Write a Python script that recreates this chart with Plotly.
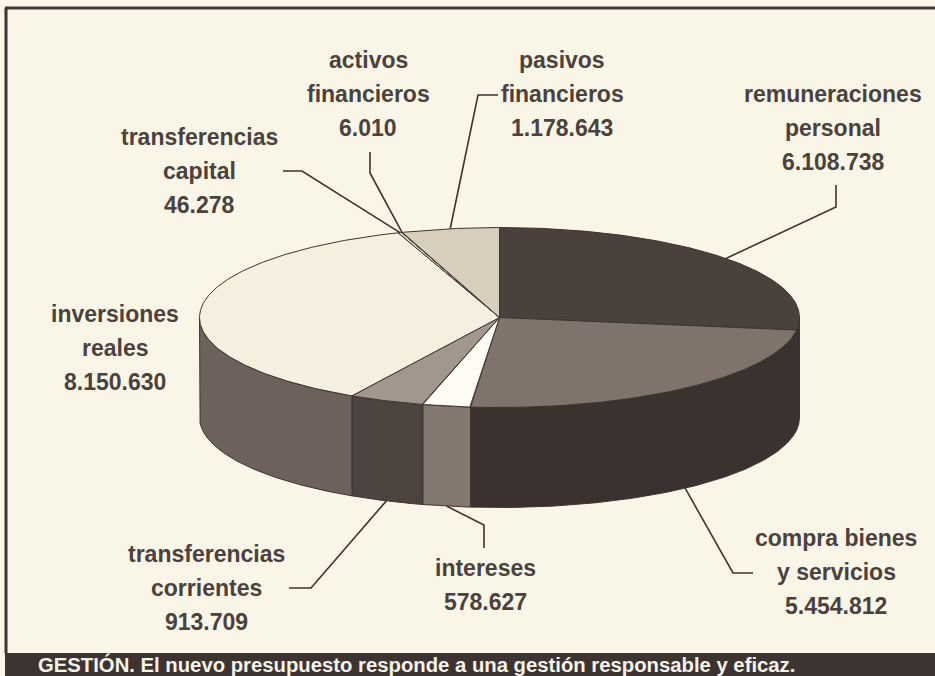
#!/usr/bin/env python
"""
Presupuesto: tarta en perspectiva con etiquetas y caja de pie.
Exports: out.html
"""

import numpy as np
import plotly.graph_objects as go

# ------------------------------------------------------------------
# Data (clockwise from 12 o'clock)
# ------------------------------------------------------------------
CATEGORIES = [
    "remuneraciones\npersonal",
    "compra bienes\ny servicios",
    "intereses",
    "transferencias\ncorrientes",
    "inversiones\nreales",
    "transferencias\ncapital",
    "activos\nfinancieros",
    "pasivos\nfinancieros",
]
VALUES = [6108738, 5454812, 578627, 913709, 8150630, 46278, 6010, 1178643]
VALUE_LABELS = ["6.108.738", "5.454.812", "578.627", "913.709",
                "8.150.630", "46.278", "6.010", "1.178.643"]
CAPTION = "GESTIÓN. El nuevo presupuesto responde a una gestión responsable y eficaz."

# ------------------------------------------------------------------
# Styling
# ------------------------------------------------------------------
TOP_COLORS = ["#4a403c", "#7f736b", "#fffdf3", "#a3978d",
              "#f4efde", "#e4dccb", "#f0ead9", "#d8cebc"]
SIDE_COLORS = ["#3a302d", "#3b322f", "#85796f", "#4d433f",
               "#6d625b", "#6d625b", "#6d625b", "#6d625b"]
PAPER = "#faf6e7"
INK = "#3d3431"
TEXT = "#4b413d"
FONT = "Liberation Sans"

# pie geometry, in page pixels
CX, CY, RX, RY, DEPTH = 499.5, 317.5, 300, 90, 100

# label block centre (first line) and leader elbows, per category
LABEL_POS = [(833, 94), (836, 538), (485, 568), (206, 554),
             (115, 314), (199, 137), (368, 60), (562, 60)]
LINE_GAP = 34
LEADERS = [
    ([(836, 207), (836, 185)], "top"),
    ([(733, 573), (753, 573)], "bottom"),
    ([(484, 525), (484, 548)], "bottom"),
    ([(311, 588), (289, 588)], "bottom"),
    None,
    ([(302, 171), (283, 171)], "top"),
    ([(370, 173), (370, 152)], "top"),
    ([(478, 95), (498, 95)], "top"),
]


def rim(theta, dy=0.0):
    """Point on the ellipse; theta in degrees clockwise from 12 o'clock."""
    t = np.radians(theta)
    return CX + RX * np.sin(t), CY - RY * np.cos(t) + dy


fractions = np.array(VALUES) / sum(VALUES)
edges = np.concatenate([[0], np.cumsum(fractions) * 360])

fig = go.Figure()


def add_poly(xs, ys, fill):
    fig.add_trace(go.Scatter(
        x=xs, y=ys, mode="lines", fill="toself", fillcolor=fill,
        line=dict(color=INK, width=1), hoverinfo="skip", showlegend=False,
    ))


# walls first, only the front half of the cylinder shows
for i in range(len(VALUES)):
    a, b = max(edges[i], 90), min(edges[i + 1], 270)
    if a >= b:
        continue
    th = np.linspace(a, b, 120)
    x1, y1 = rim(th)
    x2, y2 = rim(th[::-1], DEPTH)
    add_poly(np.r_[x1, x2, x1[0]], np.r_[y1, y2, y1[0]], SIDE_COLORS[i])

# top face
for i in range(len(VALUES)):
    th = np.linspace(edges[i], edges[i + 1], 200)
    x1, y1 = rim(th)
    add_poly(np.r_[CX, x1, CX], np.r_[CY, y1, CY], TOP_COLORS[i])

# leader lines, starting at the middle of each slice's rim
for i, leader in enumerate(LEADERS):
    if leader is None:
        continue
    pts, side = leader
    sx, sy = rim((edges[i] + edges[i + 1]) / 2, DEPTH if side == "bottom" else 0)
    fig.add_trace(go.Scatter(
        x=[sx] + [p[0] for p in pts], y=[sy] + [p[1] for p in pts],
        mode="lines", line=dict(color=INK, width=1.6),
        hoverinfo="skip", showlegend=False,
    ))

# labels, one annotation per text line
for name, val, (lx, ly) in zip(CATEGORIES, VALUE_LABELS, LABEL_POS):
    for k, line in enumerate(name.split("\n") + [val]):
        fig.add_annotation(
            x=lx, y=ly + k * LINE_GAP, text=line, showarrow=False,
            xanchor="center", yanchor="middle",
            font=dict(family=FONT, size=23, color=TEXT, weight=700),
        )

# frame (top and left only) and caption bar
fig.add_shape(type="line", x0=5, y0=8, x1=935, y1=8,
              line=dict(color=INK, width=3), layer="below")
fig.add_shape(type="line", x0=6, y0=8, x1=6, y1=653,
              line=dict(color=INK, width=3), layer="below")
fig.add_shape(type="rect", x0=5, y0=653, x1=935, y1=676,
              line=dict(width=0), fillcolor=INK)
fig.add_annotation(
    x=36, y=664.5, text=CAPTION, showarrow=False,
    xanchor="left", yanchor="middle",
    font=dict(family=FONT, size=20.3, color="#f6f3ea", weight=700),
)

fig.update_xaxes(range=[0, 935], visible=False, fixedrange=True)
fig.update_yaxes(range=[676, 0], visible=False, fixedrange=True)
fig.update_layout(
    width=935, height=676,
    margin=dict(l=0, r=0, t=0, b=0),
    paper_bgcolor=PAPER, plot_bgcolor=PAPER,
)

fig.write_html("out.html", config=dict(displayModeBar=False),
               post_script="document.body.style.margin='0';")
